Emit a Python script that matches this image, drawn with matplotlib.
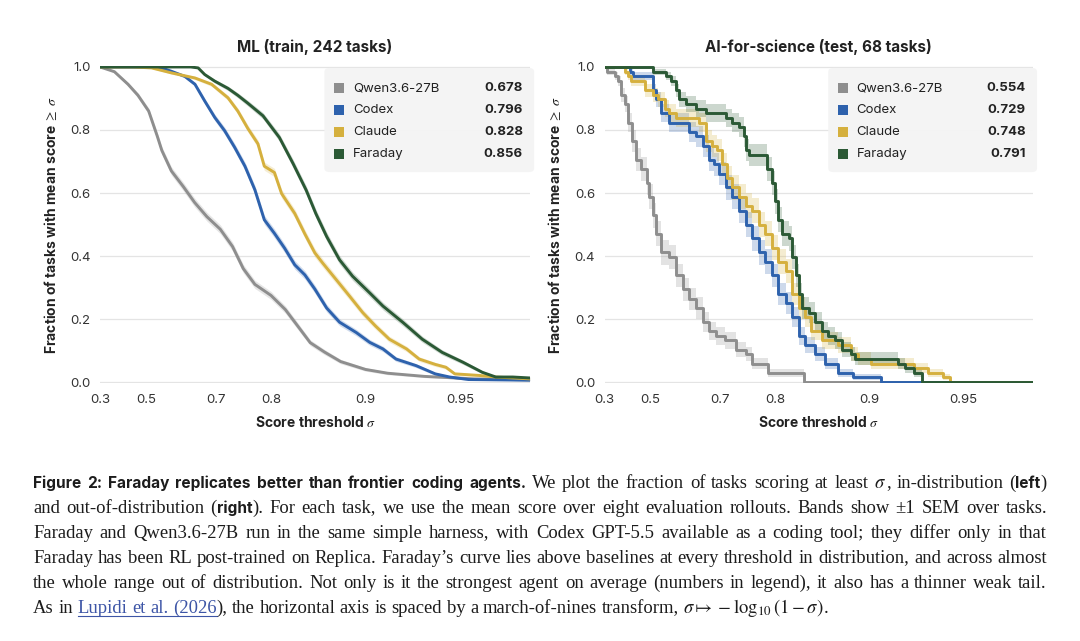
import numpy as np
import matplotlib
matplotlib.use("Agg")
import matplotlib.pyplot as plt
from matplotlib.font_manager import FontProperties
from matplotlib.patches import FancyBboxPatch
from matplotlib.lines import Line2D
from matplotlib.backends.backend_agg import get_hinting_flag

plt.rcParams['font.family'] = ['Inter', 'DejaVu Sans']
plt.rcParams['mathtext.fontset'] = 'stix'

names = ['Qwen3.6-27B', 'Codex', 'Claude', 'Faraday']
colors = ['#8e8e8e', '#2e62ad', '#d5b03e', '#2b5935']
ml_means = ['0.678', '0.796', '0.828', '0.856']
sci_means = ['0.554', '0.729', '0.748', '0.791']

# ---- ML (train, 242 tasks): threshold sigma -> fraction of tasks >= sigma
ml_qwen_s = [0.30, 0.37, 0.43, 0.47, 0.51, 0.54, 0.555, 0.585, 0.62, 0.65, 0.68, 0.71,
             0.735, 0.755, 0.775, 0.80, 0.82, 0.835, 0.85, 0.865, 0.88, 0.90, 0.915,
             0.935, 0.955, 0.97]
ml_qwen_f = [1.0, 0.985, 0.945, 0.91, 0.86, 0.78, 0.735, 0.67, 0.62, 0.57, 0.525, 0.485,
             0.43, 0.36, 0.31, 0.275, 0.23, 0.18, 0.125, 0.095, 0.065, 0.04, 0.028,
             0.018, 0.01, 0.007]
ml_codex_s = [0.30, 0.50, 0.56, 0.586, 0.624, 0.651, 0.675, 0.698, 0.719, 0.739, 0.758,
              0.775, 0.79, 0.805, 0.819, 0.832, 0.844, 0.855, 0.867, 0.879, 0.893, 0.903,
              0.912, 0.92, 0.931, 0.94, 0.946, 0.953, 0.97]
ml_codex_f = [1.0, 1.0, 0.995, 0.986, 0.97, 0.945, 0.892, 0.84, 0.798, 0.745, 0.685,
              0.61, 0.515, 0.472, 0.425, 0.372, 0.34, 0.295, 0.235, 0.19, 0.157, 0.126,
              0.105, 0.073, 0.052, 0.026, 0.016, 0.008, 0.006]
ml_claude_s = [0.30, 0.45, 0.52, 0.586, 0.651, 0.691, 0.726, 0.745, 0.763, 0.78, 0.79,
               0.805, 0.815, 0.832, 0.844, 0.855, 0.863, 0.876, 0.8875, 0.898, 0.907,
               0.916, 0.926, 0.9325, 0.94, 0.9445, 0.948, 0.9565, 0.9615, 0.97]
ml_claude_f = [1.0, 1.0, 0.997, 0.981, 0.965, 0.945, 0.902, 0.86, 0.805, 0.756, 0.685,
               0.665, 0.598, 0.535, 0.47, 0.41, 0.378, 0.325, 0.273, 0.22, 0.178,
               0.136, 0.105, 0.073, 0.056, 0.047, 0.026, 0.021, 0.016, 0.01]
ml_faraday_s = [0.30, 0.64, 0.659, 0.675, 0.698, 0.726, 0.745, 0.763, 0.788, 0.812, 0.83,
                0.8455, 0.856, 0.867, 0.879, 0.89, 0.903, 0.912, 0.924, 0.934, 0.943,
                0.951, 0.9575, 0.9615, 0.966, 0.97]
ml_faraday_f = [1.0, 1.0, 0.997, 0.976, 0.955, 0.932, 0.91, 0.885, 0.845, 0.776, 0.693,
                0.609, 0.535, 0.462, 0.388, 0.336, 0.283, 0.241, 0.189, 0.136, 0.094,
                0.063, 0.031, 0.016, 0.016, 0.013]

# ---- AI-for-science (test, 68 tasks): step curves, counts of tasks >= sigma
n_sci = 68
sci_qwen_s = [0.30, 0.31, 0.35, 0.365, 0.38, 0.395, 0.41, 0.425, 0.445, 0.465, 0.485,
              0.496, 0.508, 0.52, 0.538, 0.565, 0.586, 0.605, 0.624, 0.642, 0.659, 0.675,
              0.691, 0.712, 0.733, 0.752, 0.763, 0.79, 0.838]
sci_qwen_n = [68, 67, 66, 65, 62, 60, 56, 52, 48, 46, 43, 40, 36, 32, 28, 27, 23, 20, 18,
              16, 13, 11, 10, 9, 7, 6, 4, 2, 0]
sci_codex_s = [0.30, 0.417, 0.431, 0.508, 0.52, 0.538, 0.565, 0.624, 0.642, 0.659, 0.675,
               0.687, 0.698, 0.7125, 0.726, 0.739, 0.752, 0.763, 0.775, 0.785, 0.796,
               0.805, 0.815, 0.823, 0.832, 0.84, 0.851, 0.862, 0.874, 0.8875, 0.908]
sci_codex_n = [68, 67, 66, 63, 61, 58, 56, 54, 53, 51, 48, 47, 45, 42, 40, 37, 34, 31, 28,
               26, 23, 19, 17, 14, 10, 8, 6, 4, 2, 1, 0]
sci_claude_s = [0.30, 0.395, 0.41, 0.424, 0.478, 0.508, 0.526, 0.549, 0.565, 0.586, 0.651,
                0.667, 0.683, 0.694, 0.705, 0.716, 0.726, 0.739, 0.752, 0.763, 0.775,
                0.785, 0.796, 0.805, 0.815, 0.823, 0.832, 0.84, 0.847, 0.858, 0.874,
                0.886, 0.8915, 0.9015, 0.928, 0.935, 0.942, 0.945]
sci_claude_n = [68, 67, 66, 65, 63, 62, 61, 59, 58, 57, 56, 52, 51, 50, 47, 44, 42, 40,
                38, 37, 34, 32, 29, 26, 24, 19, 16, 14, 11, 9, 8, 6, 5, 4, 3, 2, 1, 0]
sci_faraday_s = [0.30, 0.508, 0.554, 0.570, 0.586, 0.5955, 0.615, 0.642, 0.667, 0.7125,
                 0.726, 0.739, 0.7485, 0.752, 0.758, 0.788, 0.796, 0.80, 0.805, 0.81,
                 0.819, 0.823, 0.828, 0.832, 0.836, 0.844, 0.851, 0.858, 0.865, 0.871,
                 0.8775, 0.886, 0.889, 0.919, 0.923, 0.928, 0.932]
sci_faraday_n = [68, 67, 66, 65, 63, 61, 60, 59, 58, 57, 56, 55, 53, 50, 49, 46, 43, 39,
                 35, 32, 31, 27, 23, 19, 16, 15, 13, 11, 10, 9, 7, 6, 5, 4, 3, 2, 0]

x_ticks = [0.3, 0.5, 0.7, 0.8, 0.9, 0.95]
x_min, x_max = 0.3, 0.97


def fwd(s):
    return -np.log10(1 - np.clip(s, -10, 0.999999))


def inv(t):
    return 1 - 10 ** (-t)


fig = plt.figure(figsize=(10.8, 6.41), dpi=100)
ax1 = fig.add_axes([0.0926, 0.402, 0.398, 0.4955])
ax2 = fig.add_axes([0.560, 0.402, 0.3963, 0.4955])


def style_axes(ax, title):
    ax.set_xscale('function', functions=(fwd, inv))
    ax.set_xlim(x_min, x_max)
    ax.set_ylim(-0.004, 1.004)
    ax.set_xticks(x_ticks)
    ax.set_xticklabels([str(v) for v in x_ticks])
    ax.set_yticks([0, 0.2, 0.4, 0.6, 0.8, 1.0])
    ax.set_yticklabels(['0.0', '0.2', '0.4', '0.6', '0.8', '1.0'])
    ax.tick_params(length=0, labelsize=9.5, colors='#333333')
    ax.tick_params(axis='x', pad=8)
    ax.tick_params(axis='y', pad=7)
    for sp in ax.spines.values():
        sp.set_visible(False)
    ax.grid(axis='y', color='#e4e4e4', lw=0.9)
    ax.grid(axis='x', visible=False)
    ax.set_axisbelow(True)
    ax.set_title(title, fontsize=11, fontweight='bold', color='#222222', pad=10)
    ax.set_xlabel(r'Score threshold $\sigma$', fontsize=10, fontweight='bold',
                  color='#222222', labelpad=6)
    ax.set_ylabel(r'Fraction of tasks with mean score $\geq$ $\sigma$', fontsize=10,
                  fontweight='bold', color='#222222', labelpad=8)


def legend_box(ax, means):
    ax.add_patch(FancyBboxPatch((0.522, 0.665), 0.488, 0.328,
                                boxstyle='round,pad=0,rounding_size=0.012',
                                transform=ax.transAxes, facecolor='#f4f4f4',
                                edgecolor='none', alpha=0.95, zorder=5, clip_on=False))
    ys = [0.929, 0.860, 0.791, 0.722]
    for name, col, m, y in zip(names, colors, means, ys):
        ax.scatter([0.556], [y], marker='s', s=52, color=col, transform=ax.transAxes,
                   zorder=6, clip_on=False, linewidths=0)
        ax.text(0.588, y, name, transform=ax.transAxes, fontsize=9.5, va='center',
                ha='left', color='#222222', zorder=6)
        ax.text(0.984, y, m, transform=ax.transAxes, fontsize=9.5, va='center',
                ha='right', color='#222222', fontweight='bold', zorder=6)


style_axes(ax1, 'ML (train, 242 tasks)')
style_axes(ax2, 'AI-for-science (test, 68 tasks)')

ml_series = [(ml_qwen_s, ml_qwen_f), (ml_codex_s, ml_codex_f),
             (ml_claude_s, ml_claude_f), (ml_faraday_s, ml_faraday_f)]
for (s, f), col in zip(ml_series, colors):
    s = np.array(s)
    f = np.array(f)
    half = 0.028 * np.sqrt(f * (1 - f))
    ax1.fill_between(s, np.clip(f - half, 0, 1), np.clip(f + half, 0, 1),
                     color=col, alpha=0.22, lw=0, zorder=2)
    ax1.plot(s, f, color=col, lw=2.1, zorder=3, solid_joinstyle='round')

sci_series = [(sci_qwen_s, sci_qwen_n), (sci_codex_s, sci_codex_n),
              (sci_claude_s, sci_claude_n), (sci_faraday_s, sci_faraday_n)]
for (s, n), col in zip(sci_series, colors):
    s = np.append(s, x_max)
    f = np.array(n + [n[-1]]) / n_sci
    half = 0.08 * np.sqrt(f * (1 - f))
    ax2.fill_between(s, np.clip(f - half, 0, 1), np.clip(f + half, 0, 1), step='post',
                     color=col, alpha=0.24, lw=0, zorder=2)
    ax2.step(s, f, where='post', color=col, lw=2.1, zorder=3)

legend_box(ax1, ml_means)
legend_box(ax2, sci_means)

# ---- caption: justified, one text per word piece
cap_lines = [
    [('Figure 2: Faraday replicates better than frontier coding agents.', 'b'),
     (' We plot the fraction of tasks scoring at least ', 'r'), (r'$\sigma$', 'm'),
     (', in-distribution (', 'r'), ('left', 'b'), (')', 'r')],
    [('and out-of-distribution (', 'r'), ('right', 'b'),
     ('). For each task, we use the mean score over eight evaluation rollouts. '
      'Bands show \u00b11 SEM over tasks.', 'r')],
    [('Faraday and Qwen3.6-27B run in the same simple harness, with Codex GPT-5.5 '
      'available as a coding tool; they differ only in that', 'r')],
    [('Faraday has been RL post-trained on Replica. Faraday\u2019s curve lies above '
      'baselines at every threshold in distribution, and across almost', 'r')],
    [('the whole range out of distribution. Not only is it the strongest agent on '
      'average (numbers in legend), it also has a thinner weak tail.', 'r')],
    [('As in ', 'r'), ('Lupidi et al. (2026', 'l'),
     ('), the horizontal axis is spaced by a march-of-nines transform, ', 'r'),
     (r'$\sigma \mapsto -\log_{10}(1-\sigma)$', 'm'), ('.', 'r')],
]
baselines = [488, 513, 538, 563, 588, 613]
cap_x0, cap_x1 = 33, 1047
W, H = fig.get_size_inches() * fig.dpi


def props(st, fs):
    if st == 'b':
        return FontProperties(family='Inter', weight='bold', size=fs * 0.83)
    return FontProperties(family='Liberation Serif', size=fs)


def words_of(segs):
    words = [[]]
    for txt, st in segs:
        if st == 'm':
            words[-1].append((txt, st))
            continue
        parts = txt.split(' ')
        for k, p in enumerate(parts):
            if k > 0 and words[-1]:
                words.append([])
            if p:
                words[-1].append((p, st))
    return [w for w in words if w]


fig.canvas.draw()
renderer = fig.canvas.get_renderer()


def pw(txt, st, fs):
    w, h, d = renderer.get_text_width_height_descent(txt, props(st, fs), ismath=(st == 'm'))
    return w


def row_shift(txt, st, fs):
    # pixel offset Agg adds to a string's baseline (from its glyph box rounding)
    if st == 'm':
        return 0
    try:
        font = renderer._prepare_font(props(st, fs))
        font.set_text(txt, 0, flags=get_hinting_flag())
        w, h = font.get_width_height()
        desc = font.get_descent()
        return round(desc / 64) - (h // 64) + int((h - desc) / 64)
    except Exception:
        return 0


line_words = [words_of(l) for l in cap_lines]
fs = 13.4
while fs > 9:
    sp = pw('a a', 'r', fs) - pw('aa', 'r', fs)
    widest = 0
    for words in line_words[:-1]:
        tot = sum(pw(t, s, fs) for w in words for t, s in w) + sp * 0.9 * (len(words) - 1)
        widest = max(widest, tot)
    if widest <= cap_x1 - cap_x0:
        break
    fs -= 0.1

sp = pw('a a', 'r', fs) - pw('aa', 'r', fs)
for i, words in enumerate(line_words):
    widths = [[pw(t, s, fs) for t, s in w] for w in words]
    tot = sum(sum(ws) for ws in widths)
    gap = sp if i == len(line_words) - 1 else (cap_x1 - cap_x0 - tot) / (len(words) - 1)
    x = cap_x0
    link_x = []
    for w, ws in zip(words, widths):
        for (t, s), wd in zip(w, ws):
            col = '#3d55a6' if s == 'l' else '#1c1c1c'
            yb = baselines[i] - row_shift(t, s, fs)
            fig.text(x / W, 1 - yb / H, t, fontproperties=props(s, fs), color=col,
                     ha='left', va='baseline')
            if s == 'l':
                link_x += [x, x + wd]
            x += wd
        x += gap
    if link_x:
        uy = 1 - (baselines[i] + 2.5) / H
        fig.add_artist(Line2D([min(link_x) / W, max(link_x) / W], [uy, uy],
                              color='#3d55a6', lw=0.8, transform=fig.transFigure))

fig.savefig('out.png', dpi=100)
